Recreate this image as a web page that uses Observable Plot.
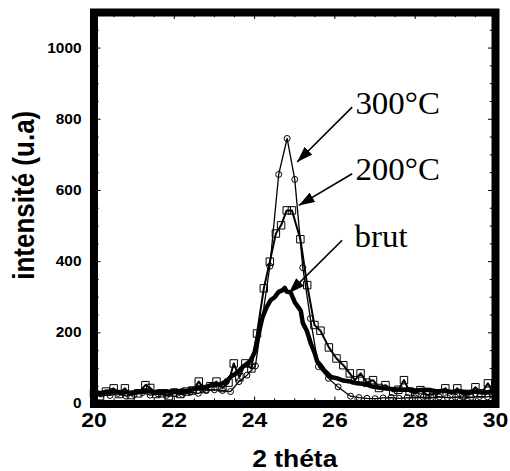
<!DOCTYPE html>
<html><head><meta charset="utf-8">
<script src="https://cdn.jsdelivr.net/npm/d3@7"></script>
<script src="https://cdn.jsdelivr.net/npm/@observablehq/plot@0.6"></script>
<style>body{margin:0;background:#fff}svg{display:block}</style>
</head><body><div id="chart"></div>
<script>
// ---- data ----
const x300 = [20.0,20.2,20.4,20.6,20.8,21.0,21.2,21.4,21.6,21.8,22.0,22.2,22.4,22.6,22.8,23.0,23.2,23.4,23.61,23.81,24.02,24.38,24.6,24.81,25.0,25.2,25.39,25.59,25.84,26.08,26.39,26.6,26.8,27.0,27.2,27.4,27.6,27.8,28.0,28.2,28.4,28.6,28.8,29.0,29.2,29.4,29.6,29.8,30.0];
const y300 = [22,28,24,30,22,27,32,25,28,24,30,27,33,30,38,40,38,35,63,81,107,387,645,746,631,383,240,105,72,48,22,18,16,15,17,18,16,18,17,19,18,20,18,19,20,19,21,20,22];
const x200 = [20.0,20.15,20.3,20.49,20.62,20.77,20.92,21.1,21.28,21.4,21.55,21.7,21.86,22.0,22.15,22.3,22.45,22.61,22.75,22.9,23.05,23.2,23.35,23.48,23.62,23.77,23.92,24.06,24.23,24.38,24.53,24.66,24.8,24.93,25.14,25.31,25.49,25.64,25.85,26.04,26.21,26.37,26.5,26.64,26.8,26.95,27.1,27.26,27.45,27.58,27.72,27.86,28.0,28.13,28.3,28.45,28.6,28.75,28.9,29.05,29.2,29.35,29.5,29.65,29.81,29.95];
const y200 = [30,22,35,44,28,44,25,30,53,45,28,30,22,32,28,35,38,63,42,50,63,45,60,114,75,114,100,198,325,400,479,502,544,544,463,334,222,206,159,128,109,86,67,86,60,67,45,53,35,40,67,35,30,39,25,28,30,44,28,44,25,28,47,30,58,30];
const xBrut = [20.0,20.1,20.2,20.3,20.4,20.5,20.6,20.7,20.8,20.9,21.0,21.1,21.2,21.3,21.4,21.5,21.6,21.7,21.8,21.9,22.0,22.1,22.2,22.3,22.4,22.5,22.6,22.7,22.8,22.9,23.0,23.1,23.2,23.3,23.4,23.5,23.6,23.7,23.8,23.9,24.0,24.1,24.2,24.3,24.4,24.5,24.6,24.7,24.75,24.8,24.9,25.0,25.1,25.15,25.2,25.3,25.4,25.45,25.5,25.56,25.65,25.72,25.81,25.9,26.06,26.2,26.39,26.55,26.76,26.9,27.05,27.22,27.4,27.6,27.8,28.0,28.2,28.38,28.55,28.7,28.9,29.1,29.3,29.5,29.7,29.85,30.0];
const yBrut = [28,32,30,35,31,36,33,30,34,31,33,36,34,38,35,32,35,33,36,34,37,35,38,36,40,42,46,43,48,52,55,53,58,64,76,83,92,104,112,122,145,198,245,272,292,300,315,320,326,316,313,286,270,262,228,206,170,156,142,119,108,96,86,76,72,66,63,58,56,50,47,44,42,40,41,38,40,39,35,37,34,36,33,35,32,34,33];

const xMajor = [20,22,24,26,28,30];
const yMajor = [0,200,400,600,800,1000];
const xTitle = "2 théta";
const yTitle = "intensité (u.a)";
const annotations = [
  {label: "300°C", x: 26.51, y: 816},
  {label: "200°C", x: 26.51, y: 629},
  {label: "brut",  x: 26.49, y: 441}
];
const arrows = [
  {x1: 26.43, y1: 834, x2: 25.06, y2: 680},
  {x1: 26.43, y1: 647, x2: 25.10, y2: 558},
  {x1: 26.18, y1: 460, x2: 24.85, y2: 311}
];

// ---- layout ----
const W = 510, H = 471;
const mL = 93.5, mR = 15, mT = 12, mB = 67.5;
const xDom = [20, 30], yDom = [0, 1100];
const pxX = (W - mL - mR) / (xDom[1] - xDom[0]);
const pxY = (H - mT - mB) / (yDom[1] - yDom[0]);
const majLen = 7, minLen = 5.2;

const s300 = x300.map((x, i) => ({x, y: y300[i]}));
const s200 = x200.map((x, i) => ({x, y: y200[i]}));
const sBrut = xBrut.map((x, i) => ({x, y: yBrut[i]}));

const xTicks = d3.range(0, 21).map(i => xDom[0] + i * 0.5).map(v => ({v, len: xMajor.includes(v) ? majLen : minLen}));
const yTicks = d3.range(0, 23).map(i => i * 50).map(v => ({v, len: yMajor.includes(v) ? majLen : minLen}));

const sans = "'Liberation Sans', Arial, sans-serif";
const serif = "'Liberation Serif', 'Times New Roman', serif";

const svg = Plot.plot({
  width: W, height: H,
  marginLeft: mL, marginRight: mR, marginTop: mT, marginBottom: mB,
  x: {domain: xDom, axis: null},
  y: {domain: yDom, axis: null},
  style: {background: "white", fontFamily: sans},
  marks: [
    // ticks (inward, all four sides)
    Plot.ruleX(xTicks, {x: "v", y1: yDom[0], y2: d => yDom[0] + d.len / pxY, stroke: "black", strokeWidth: 1}),
    Plot.ruleX(xTicks, {x: "v", y1: yDom[1], y2: d => yDom[1] - d.len / pxY, stroke: "black", strokeWidth: 1}),
    Plot.ruleY(yTicks, {y: "v", x1: xDom[0], x2: d => xDom[0] + d.len / pxX, stroke: "black", strokeWidth: 1}),
    Plot.ruleY(yTicks, {y: "v", x1: xDom[1], x2: d => xDom[1] - d.len / pxX, stroke: "black", strokeWidth: 1}),
    // series
    Plot.line(s300, {x: "x", y: "y", stroke: "black", strokeWidth: 1.3}),
    Plot.dot(s300, {x: "x", y: "y", r: 3, stroke: "black", strokeWidth: 1, fill: "none"}),
    Plot.line(s200, {x: "x", y: "y", stroke: "black", strokeWidth: 2}),
    Plot.dot(s200, {x: "x", y: "y", symbol: "square", r: 4.2, stroke: "black", strokeWidth: 1, fill: "none"}),
    Plot.line(sBrut, {x: "x", y: "y", stroke: "black", strokeWidth: 4.5}),
    // arrows
    Plot.link(arrows, {x1: "x1", y1: "y1", x2: "x2", y2: "y2", stroke: "black", strokeWidth: 1.6}),
    // texts
    Plot.text(xMajor, {x: d => d, y: yDom[0], text: d => String(d), dy: 9.2, lineAnchor: "top", fontSize: 20, fontWeight: "bold", fill: "black"}),
    Plot.text(yMajor, {x: xDom[0], y: d => d, text: d => String(d), dx: -12.5, textAnchor: "end", fontSize: 14, fontWeight: "bold", fill: "black"}),
    Plot.text([xTitle], {frameAnchor: "bottom", text: d => d, textAnchor: "middle", lineAnchor: "bottom", dy: 63.2, fontSize: 23, fontWeight: "bold", fill: "black"}),
    Plot.text([yTitle], {frameAnchor: "left", text: d => d, rotate: -90, textAnchor: "middle", lineAnchor: "bottom", dx: -60.2, dy: -13, fontSize: 26, fontWeight: "bold", fill: "black"}),
    Plot.text(annotations, {x: "x", y: "y", text: "label", textAnchor: "start", lineAnchor: "bottom", fontFamily: serif, fontSize: 30.5, fill: "black"}),
    // thick frame
    Plot.frame({stroke: "black", strokeWidth: 8})
  ]
});

// horizontal stretch of texts (the reference is slightly wide)
const textGroups = svg.querySelectorAll('g[aria-label="text"]');
const stretches = [[1.15, 1], [1.1, 1], [1.15, 1], [1, 1.1], [1.08, 1]];
textGroups.forEach((g, k) => {
  const [sx, sy] = stretches[k] || [1, 1];
  g.querySelectorAll("text").forEach(t => {
    const tr = t.getAttribute("transform");
    if (tr) t.setAttribute("transform", tr + ` scale(${sx},${sy})`);
  });
});

// filled arrowheads
const root = d3.select(svg);
const defs = root.insert("defs", ":first-child");
defs.append("marker")
  .attr("id", "ah").attr("viewBox", "0 0 16 11")
  .attr("refX", 16).attr("refY", 5.5)
  .attr("markerWidth", 16).attr("markerHeight", 11)
  .attr("markerUnits", "userSpaceOnUse").attr("orient", "auto")
  .append("path").attr("d", "M0,0L16,5.5L0,11Z").attr("fill", "black");
root.selectAll('g[aria-label="link"] path').attr("marker-end", "url(#ah)");

document.getElementById("chart").appendChild(svg);
</script>
</body></html>
